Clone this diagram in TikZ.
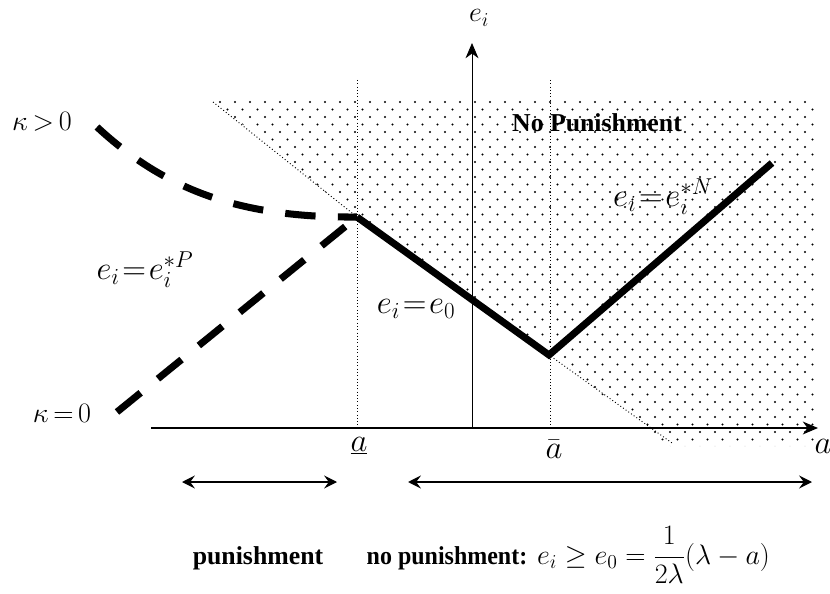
\RequirePackage{fix-cm}
\documentclass[tikz,border=0pt]{standalone}
\usepackage{fontspec}
\setmainfont{Liberation Serif}
\usetikzlibrary{arrows.meta,positioning}
\tikzset{
  axisline/.style={-{Stealth[length=13pt,width=11pt,inset=4pt]}, line width=0.9pt},
  guide/.style={dotted, line width=0.8pt},
  effort/.style={line width=6pt},
  effortdash/.style={effort, dash pattern=on 26pt off 19pt},
  spanarr/.style={{Stealth[length=11pt,width=11pt,inset=4pt]}-{Stealth[length=11pt,width=11pt,inset=4pt]}},
  lbl/.style={inner sep=0pt, font=\fontsize{24}{28}\selectfont},
  biglbl/.style={inner sep=0pt, font=\fontsize{28}{32}\selectfont},
  boldlbl/.style={inner sep=0pt, font=\fontsize{22}{26}\selectfont\bfseries}
}
\newcommand{\tighteq}{\mkern1.5mu{=}\mkern1.5mu}
\newcommand{\tightrel}[1]{\mkern3mu{#1}\mkern3mu}

\begin{document}
\begin{tikzpicture}[x=0.03cm, y=-0.03cm]
  \useasboundingbox (0,0) rectangle (830,594);
  % points of the diagram
  \coordinate (xfrom) at (151,428);
  \coordinate (xto) at (818,428);
  \coordinate (yfrom) at (472,428);
  \coordinate (yto) at (472,43);
  \coordinate (kink) at (357,217);
  \coordinate (vbot) at (549,355);
  \coordinate (ntop) at (772,163);
  \coordinate (pstart) at (97,127);
  \coordinate (zstart) at (117,412);
  \coordinate (shadetl) at (213,102);
  \coordinate (shadebl) at (672,443);
  \coordinate (lowtop) at (357,80);
  \coordinate (lowfoot) at (357,428);
  \coordinate (hightop) at (550,80);
  \coordinate (highfoot) at (550,428);
  \coordinate (pl) at (182,482);
  \coordinate (pr) at (337,482);
  \coordinate (nl) at (408,482);
  \coordinate (nr) at (812,482);

  % dotted region
  \begin{scope}
    \clip (210,98) -- (355,216) -- (548,354) -- (670,446) -- (815,446) -- (815,98) -- cycle;
    \foreach \row in {0,...,46}
      \foreach \col in {0,...,41}
        \fill ({205+15*\col+7.5*mod(\row,2)}, {102+7.5*\row}) circle[radius=0.9pt];
  \end{scope}
  \draw[guide] (shadetl) -- (kink) -- (vbot) -- (shadebl);
  \draw[guide] (lowtop) -- (lowfoot);
  \draw[guide] (hightop) -- (highfoot);

  % axes
  \draw[axisline] (xfrom) -- (xto);
  \draw[axisline, line width=0.7pt] (yfrom) -- (yto);

  % effort paths
  \draw[effortdash] (pstart) .. controls (165,190) and (240,218) .. (kink);
  \draw[effortdash] (zstart) -- (kink);
  \draw[effort, line join=miter] (kink) -- (vbot) -- (ntop);

  % ranges
  \draw[spanarr, line width=1pt] (pl) -- (pr);
  \draw[spanarr, line width=1.6pt] (nl) -- (nr);

  % labels
  \node[boldlbl] (nopun) at (597,123) {No Punishment};
  \node[lbl] (kpos) at (42,122) {$\kappa\tightrel{>}0$};
  \node[lbl] (kzero) at (62,413) {$\kappa\tightrel{=}0$};
  \node[biglbl] (eP) at (145,270) {$e_i\tighteq e_i^{*P}$};
  \node[biglbl] (ezero) at (416,309) {$e_i\tighteq e_0$};
  \node[biglbl] (eN) at (663,197) {$e_i\tighteq e_i^{*N}$};
  \node[biglbl] (alab) at (823,446) {$a$};
  \node[lbl] (eilab) at (479,18) {$e_i$};
  \node[biglbl] (alow) at (359,446) {$\underline{a}$};
  \node[biglbl] (ahigh) at (554,449) {$\bar{a}$};
  \node[boldlbl, anchor=base] (pun) at (258,564) {punishment};
  \node[boldlbl, anchor=base] (nopunb) at (447,564) {\scalebox{0.93}[1]{no punishment:}};
  \node[lbl, anchor=base west] (cond) at ([xshift=8pt]nopunb.base east)
    {$\displaystyle e_i\ge e_0=\frac{1}{2\lambda}(\lambda-a)$};
\end{tikzpicture}
\end{document}
